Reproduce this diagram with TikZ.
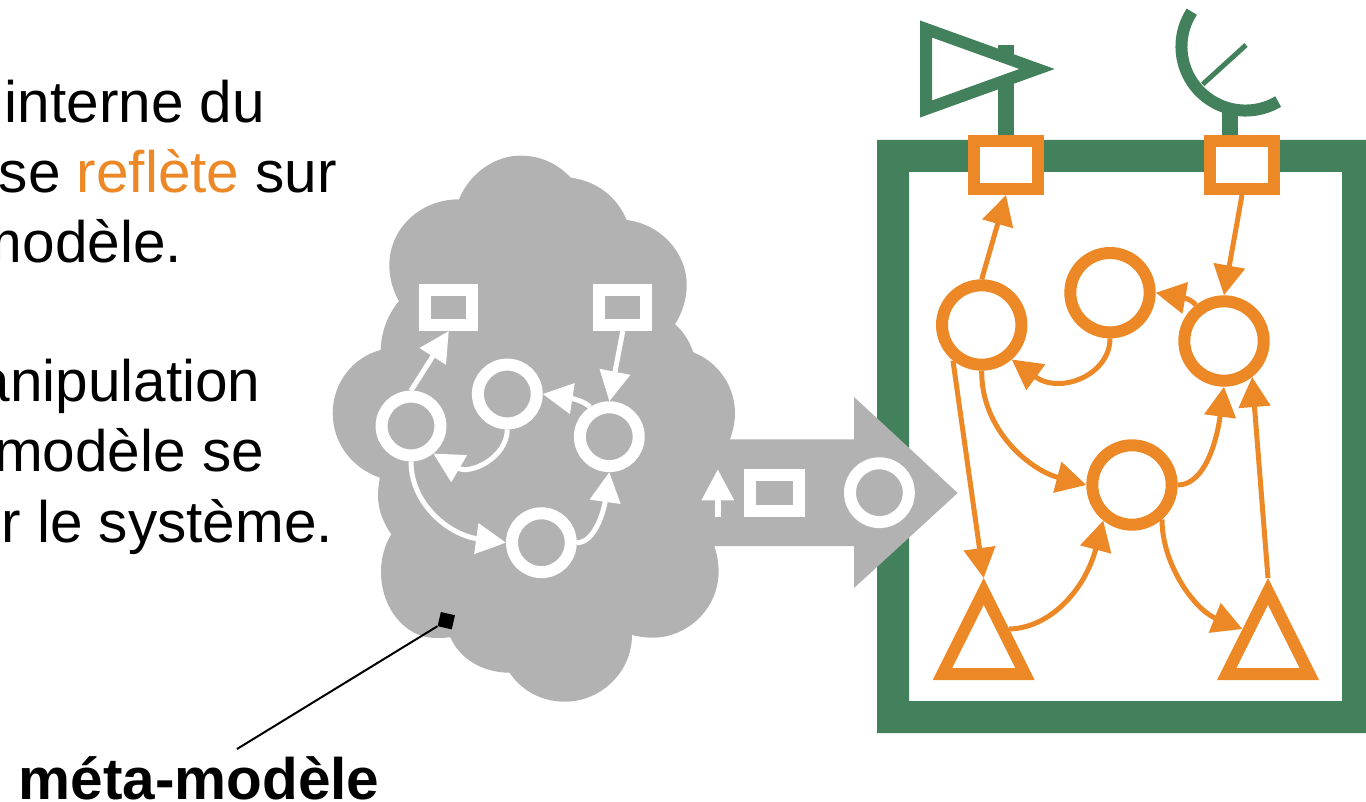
\documentclass[tikz,border=0pt]{standalone}
\usepackage{fontspec}
\setmainfont{Liberation Sans}
\usetikzlibrary{arrows.meta,shapes.geometric}
\definecolor{ora}{HTML}{EC8826}
\definecolor{gre}{HTML}{42815B}
\definecolor{gry}{HTML}{B2B2B2}
\tikzset{
  txt/.style={inner sep=0pt,outer sep=0pt,anchor=base east,font=\fontsize{58.5}{70}\selectfont},
  orabox/.style={draw=ora,line width=12pt,fill=white,rectangle,inner sep=0pt,minimum width=64pt,minimum height=48pt},
  oracirc/.style={draw=ora,line width=12pt,fill=white,circle,inner sep=0pt,minimum size=79.4pt},
  oratri/.style={draw=ora,line width=12pt,fill=white,isosceles triangle,shape border rotate=90,isosceles triangle apex angle=53.13,isosceles triangle stretches,inner sep=0pt,minimum width=82.6pt,minimum height=82.6pt,anchor=apex,miter limit=10},
  whbox/.style={draw=white,line width=12pt,rectangle,inner sep=0pt,minimum width=47pt,minimum height=35.5pt},
  whcirc/.style={draw=white,line width=12pt,circle,inner sep=0pt,minimum size=58.8pt},
  oraarr/.style={draw=ora,line width=5pt,-{Triangle[length=30pt,width=31pt]}},
  wharr/.style={draw=white,line width=5pt,-{Triangle[length=30pt,width=30pt]}},
  grnline/.style={draw=gre,line width=16pt},
}
\begin{document}
\begin{tikzpicture}[x=1pt,y=-1pt]
\useasboundingbox (0,0) rectangle (1366,802);
% texts
\node[txt] (t1) at (265,122.5) {interne du};
\node[txt] (t2) at (337,192.5) {se \textcolor{ora}{reflète} sur};
\node[txt] (t3) at (182,263) {modèle.};
\node[txt] (t4) at (260.5,401) {manipulation};
\node[txt] (t5) at (264,471.5) {modèle se};
\node[txt] (t6) at (333,542) {sur le système.};
\node[txt,anchor=base west,font=\fontsize{58.5}{70}\selectfont\bfseries] (t7) at (18.5,799.5) {méta-modèle};
% green system frame
\fill[gre,even odd rule] (877,140) rectangle (1366,733) (909,172) rectangle (1342,701);
% antenna
\coordinate (ant1top) at (1006,44.7);
\coordinate (ant1bot) at (1006,140);
\coordinate (ant2top) at (1230,104);
\coordinate (ant2bot) at (1230,140);
\draw[grnline] (ant1top) -- (ant1bot);
\draw[draw=gre,line width=12pt,fill=white,miter limit=10] (926,29) -- (1037,69) -- (926,109) -- cycle;
\draw[grnline] (ant2top) -- (ant2bot);
\draw[draw=gre,line width=12pt] (1191.8,11.7) arc[start angle=-147,end angle=-300.7,radius=64];
\coordinate (feedA) at (1202.7,84.3);
\coordinate (feedB) at (1246,45);
\draw[draw=gre,line width=5pt] (feedA) -- (feedB);
% big grey arrow
\fill[gry] (700,439.3) -- (854,439.3) -- (854,397) -- (957.7,493) -- (854,588) -- (854,546) -- (700,546) -- cycle;
% cloud
\fill[gry] (459,199.3)
 .. controls (470,172) and (497,155) .. (521,155.7)
 .. controls (541,155.7) and (558,164) .. (570.7,177.7)
 .. controls (597,181) and (617,197) .. (626.7,220)
 .. controls (660,224) and (686.7,252) .. (686.7,285)
 .. controls (686.7,300) and (682,313) .. (675,324.3)
 .. controls (683,331) and (689.5,341) .. (693.3,352.3)
 .. controls (718,362) and (735,386) .. (735,413.3)
 .. controls (735,422) and (733,431) .. (730,439)
 -- (714.5,546.7)
 .. controls (717,554) and (718.6,563) .. (718.6,571.7)
 .. controls (718.6,608) and (688,637.7) .. (652.4,637.7)
 .. controls (645,637.7) and (638,636.5) .. (632,635)
 .. controls (632,672) and (601,701.7) .. (564.7,701.7)
 .. controls (541,701.7) and (521,690) .. (509.6,672.7)
 .. controls (482,672.7) and (459,658) .. (450.4,637.3)
 .. controls (445,637.9) and (440,638) .. (436,638)
 .. controls (405,638) and (381,608) .. (381,571.7)
 .. controls (381,557) and (385,545) .. (391.2,534.3)
 .. controls (383,522) and (378,510) .. (378,495)
 .. controls (378,489) and (379,483) .. (379.8,477.7)
 .. controls (352,468) and (332.7,443) .. (332.7,413.3)
 .. controls (332.7,383) and (353,357) .. (380.7,350)
 .. controls (381,332) and (388,314) .. (399,301)
 .. controls (393,291) and (389.3,278) .. (389.3,265)
 .. controls (389.3,229) and (420,199.3) .. (459,199.3) -- cycle;
% white model
\node[whbox] (wb1) at (448.8,307.3) {};
\node[whbox] (wb2) at (622.8,307.3) {};
\node[whcirc] (wn1) at (411,426) {};
\node[whcirc] (wn2) at (507.3,394) {};
\node[whcirc] (wn3) at (609.3,436.7) {};
\node[whcirc] (wn4) at (541.4,542.7) {};
\node[whcirc] (wn5) at (879.4,492.7) {};
\node[whbox,minimum width=48.8pt,minimum height=36.5pt] (wb3) at (774.3,493) {};
\coordinate (upA) at (717.8,516.7);
\coordinate (upB) at (717.8,469.3);
\draw[draw=white,line width=6pt,-{Triangle[length=31pt,width=31pt]}] (upA) -- (upB);
\draw[wharr] (wn1.north) -- (wb1.south);
\draw[wharr] (wb2.south) -- (wn3.north);
\draw[wharr] (wn3.123) .. controls (585,402) and (575,399) .. (wn2.east);
\draw[wharr] (wn2.south) .. controls (507,458) and (470,475) .. (wn1.-51);
\draw[wharr] (wn1.south) .. controls (411,505) and (450,535) .. (wn4.west);
\draw[wharr] (wn4.east) .. controls (595,543) and (604,510) .. (wn3.south);
% pointer
\node[fill=black,inner sep=0pt,minimum size=14.5pt,rotate=-13] (sq) at (446.3,620.7) {};
\coordinate (lead) at (237,749);
\draw[black,line width=2pt] (lead) -- (sq.south west);
% orange model
\node[orabox] (p1) at (1006,165) {};
\node[orabox] (p2) at (1242,165) {};
\node[oracirc] (A) at (981.7,325) {};
\node[oracirc] (B) at (1110,292.7) {};
\node[oracirc] (C) at (1224,341) {};
\node[oracirc] (D) at (1132,485) {};
\node[oratri] (T1) at (983.7,578) {};
\node[oratri] (T2) at (1268,578) {};
\draw[oraarr] (A.north) -- (p1.south);
\draw[oraarr] (p2.south) -- (C.north);
\draw[oraarr] (C.128) .. controls (1190,298) and (1180,297) .. (B.east);
\draw[oraarr] (B.south) .. controls (1110,375) and (1060,395) .. (A.-49);
\draw[oraarr] (A.south) .. controls (981,430) and (1030,470) .. (D.west);
\draw[oraarr] (A.231) -- (T1.apex);
\draw[oraarr] (D.east) .. controls (1205,485) and (1217,440) .. (C.south);
\draw[oraarr] (T2.apex) -- (C.308);
\draw[oraarr] (D.311) .. controls (1162,565) and (1195,610) .. (T2.left side);
\draw[oraarr] (T1.right side) .. controls (1050,628) and (1085,590) .. (D.231);
\end{tikzpicture}
\end{document}
